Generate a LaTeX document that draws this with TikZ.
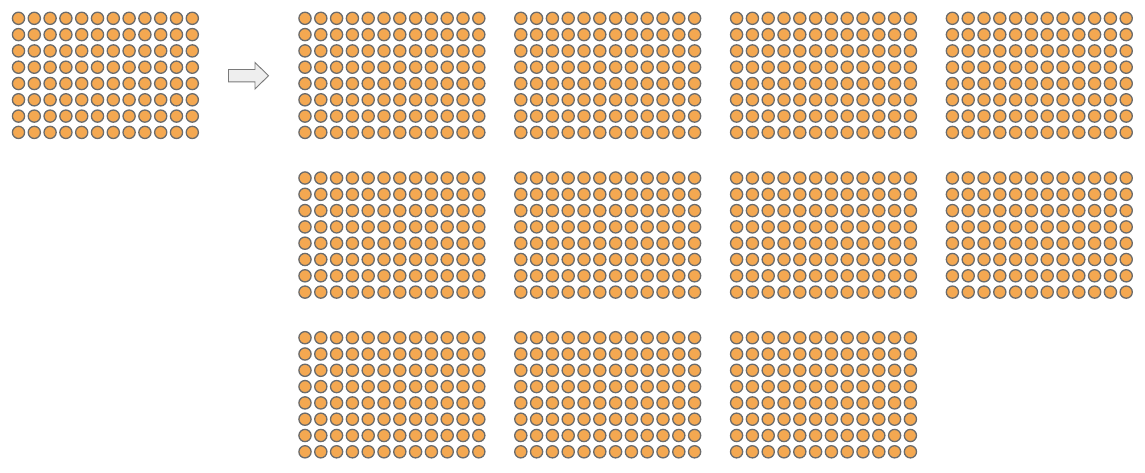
\documentclass[tikz,border=0pt]{standalone}
\usepackage{tikz}
\definecolor{cfill}{HTML}{F4A851}
\definecolor{cdraw}{HTML}{6B6B6B}
\definecolor{afill}{HTML}{EEEEEE}
\definecolor{adraw}{HTML}{7A7A7A}
\tikzset{
  dot/.style={fill=cfill,draw=cdraw,line width=1.3pt},
  bigarrow/.style={fill=afill,draw=adraw,line width=0.9pt,line join=miter}
}
\newcommand{\dotgrid}[2]{%
  \foreach \i in {0,...,11}{%
    \foreach \j in {0,...,7}{%
      \path[dot] ({#1+15.8*\i},{#2+16.3*\j}) circle (6.1);
    }%
  }%
}
\begin{document}
\begin{tikzpicture}[x=1pt,y=-1pt]
\useasboundingbox (0,0) rectangle (1145,472);
\dotgrid{18.5}{18.3}
\foreach \c in {0,1,2,3}{\dotgrid{305+215.8*\c}{18.3}}
\foreach \c in {0,1,2,3}{\dotgrid{305+215.8*\c}{178.0}}
\foreach \c in {0,1,2}{\dotgrid{305+215.8*\c}{337.7}}
\coordinate (a1) at (228.5,69.5);
\coordinate (a2) at (255,69.5);
\coordinate (a3) at (255,62.5);
\coordinate (a4) at (268.5,75.7);
\coordinate (a5) at (255,89);
\coordinate (a6) at (255,81.9);
\coordinate (a7) at (228.5,81.9);
\draw[bigarrow] (a1) -- (a2) -- (a3) -- (a4) -- (a5) -- (a6) -- (a7) -- cycle;
\end{tikzpicture}
\end{document}
